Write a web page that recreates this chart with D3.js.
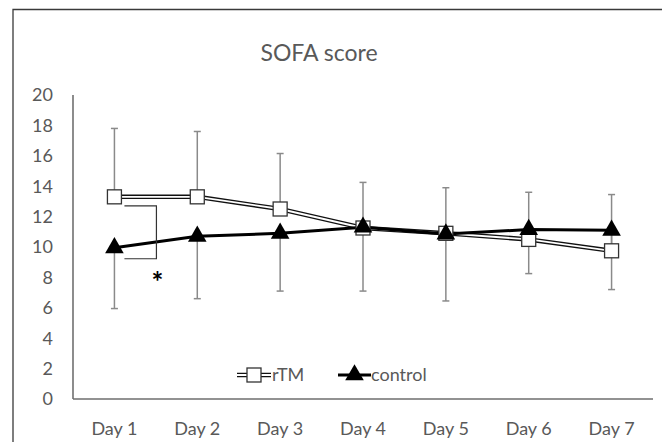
<!DOCTYPE html>
<html>
<head>
<meta charset="utf-8">
<script src="https://cdn.jsdelivr.net/npm/d3@7"></script>
<style>
  body { margin: 0; background: #fff; }
  text { font-family: Lato, "Liberation Sans", sans-serif; }
</style>
</head>
<body>
<div id="vis"></div>
<script>
const FRAME_WIDTH = 662;
const FRAME_HEIGHT = 442;

// data
const days = ["Day 1", "Day 2", "Day 3", "Day 4", "Day 5", "Day 6", "Day 7"];
const rtmValues = [13.3, 13.3, 12.5, 11.25, 10.9, 10.5, 9.75];
const rtmUpper = [17.8, 17.6, 16.15, 14.25, 13.9, 13.6, 13.45];
const controlValues = [9.95, 10.7, 10.9, 11.3, 10.85, 11.15, 11.1];
const controlLower = [5.95, 6.6, 7.1, 7.1, 6.45, 8.25, 7.2];
const yTicks = [0, 2, 4, 6, 8, 10, 12, 14, 16, 18, 20];

const MARGINS = {left: 73, right: 9, top: 95, bottom: 43};

const svg = d3.select("#vis")
  .append("svg")
  .attr("width", FRAME_WIDTH)
  .attr("height", FRAME_HEIGHT);

// outer frame (only top and left edges show)
svg.append("path")
  .attr("d", `M13,${FRAME_HEIGHT} L13,9.5 L${FRAME_WIDTH},9.5`)
  .attr("fill", "none")
  .attr("stroke", "#3a3a3a")
  .attr("stroke-width", 1.3);

const X_SCALE = d3.scaleBand()
  .domain(days)
  .range([MARGINS.left, FRAME_WIDTH - MARGINS.right]);

const Y_SCALE = d3.scaleLinear()
  .domain([0, 20])
  .range([FRAME_HEIGHT - MARGINS.bottom, MARGINS.top]);

const cx = (i) => X_SCALE(days[i]) + X_SCALE.bandwidth() / 2;

// title
svg.append("text")
  .attr("x", 319)
  .attr("y", 61)
  .attr("text-anchor", "middle")
  .attr("fill", "#595959")
  .attr("font-size", 23)
  .text("SOFA score");

// y axis
svg.append("line")
  .attr("x1", MARGINS.left).attr("x2", MARGINS.left)
  .attr("y1", Y_SCALE(20)).attr("y2", Y_SCALE(0))
  .attr("stroke", "#404040")
  .attr("stroke-width", 1.2);

svg.selectAll(".ytick")
  .data(yTicks)
  .enter()
  .append("text")
    .attr("class", "ytick")
    .attr("x", 53)
    .attr("y", (d) => Y_SCALE(d))
    .attr("dy", "0.36em")
    .attr("text-anchor", "end")
    .attr("fill", "#595959")
    .attr("font-size", 18)
    .text((d) => d);

// x axis
svg.append("line")
  .attr("x1", MARGINS.left).attr("x2", FRAME_WIDTH - MARGINS.right)
  .attr("y1", Y_SCALE(0)).attr("y2", Y_SCALE(0))
  .attr("stroke", "#6e6e6e")
  .attr("stroke-width", 1.6);

svg.selectAll(".xtick")
  .data(days)
  .enter()
  .append("text")
    .attr("class", "xtick")
    .attr("x", (d, i) => cx(i))
    .attr("y", Y_SCALE(0) + 36)
    .attr("text-anchor", "middle")
    .attr("fill", "#595959")
    .attr("font-size", 18)
    .text((d) => d);

// error bars: plus for rTM, minus for control
const CAP = 3.5;
const errG = svg.append("g")
  .attr("stroke", "#8a8a8a")
  .attr("stroke-width", 1.5);

days.forEach((d, i) => {
  const x = cx(i);
  errG.append("line")
    .attr("x1", x).attr("x2", x)
    .attr("y1", Y_SCALE(rtmValues[i])).attr("y2", Y_SCALE(rtmUpper[i]));
  errG.append("line")
    .attr("x1", x - CAP).attr("x2", x + CAP)
    .attr("y1", Y_SCALE(rtmUpper[i])).attr("y2", Y_SCALE(rtmUpper[i]));
  errG.append("line")
    .attr("x1", x).attr("x2", x)
    .attr("y1", Y_SCALE(controlValues[i])).attr("y2", Y_SCALE(controlLower[i]));
  errG.append("line")
    .attr("x1", x - CAP).attr("x2", x + CAP)
    .attr("y1", Y_SCALE(controlLower[i])).attr("y2", Y_SCALE(controlLower[i]));
});

const lineGen = d3.line()
  .x((d, i) => cx(i))
  .y((d) => Y_SCALE(d));

// rTM: double line (black outline, white core)
svg.append("path")
  .datum(rtmValues)
  .attr("d", lineGen)
  .attr("fill", "none")
  .attr("stroke", "#111")
  .attr("stroke-width", 4.5);
svg.append("path")
  .datum(rtmValues)
  .attr("d", lineGen)
  .attr("fill", "none")
  .attr("stroke", "#fff")
  .attr("stroke-width", 1.8);

// control line
svg.append("path")
  .datum(controlValues)
  .attr("d", lineGen)
  .attr("fill", "none")
  .attr("stroke", "#000")
  .attr("stroke-width", 3);

const SQ = 14;
svg.selectAll(".sq")
  .data(rtmValues)
  .enter()
  .append("rect")
    .attr("class", "sq")
    .attr("x", (d, i) => cx(i) - SQ / 2)
    .attr("y", (d) => Y_SCALE(d) - SQ / 2)
    .attr("width", SQ)
    .attr("height", SQ)
    .attr("fill", "#fff")
    .attr("stroke", "#333")
    .attr("stroke-width", 1.3);

const tri = d3.symbol().type(d3.symbolTriangle).size(150);
svg.selectAll(".tri")
  .data(controlValues)
  .enter()
  .append("path")
    .attr("class", "tri")
    .attr("d", tri)
    .attr("transform", (d, i) => `translate(${cx(i)},${Y_SCALE(d)})`)
    .attr("fill", "#000");

// significance bracket on Day 1
const bx0 = cx(0) + 10;
const bx1 = cx(0) + 42;
svg.append("path")
  .attr("d", `M${bx0},${Y_SCALE(rtmValues[0]) + 9} H${bx1} V${Y_SCALE(controlValues[0]) + 11} H${bx0}`)
  .attr("fill", "none")
  .attr("stroke", "#333")
  .attr("stroke-width", 1.2);
svg.append("text")
  .attr("x", bx1 + 1)
  .attr("y", Y_SCALE(controlValues[0]) + 44)
  .attr("text-anchor", "middle")
  .attr("fill", "#000")
  .attr("font-family", "DejaVu Sans")
  .attr("font-weight", "bold")
  .attr("font-size", 28)
  .text("*");

// legend
const legY = 375;
const lg = svg.append("g");
lg.append("line")
  .attr("x1", 237).attr("x2", 271).attr("y1", legY).attr("y2", legY)
  .attr("stroke", "#111").attr("stroke-width", 4.5);
lg.append("line")
  .attr("x1", 237).attr("x2", 271).attr("y1", legY).attr("y2", legY)
  .attr("stroke", "#fff").attr("stroke-width", 1.8);
lg.append("rect")
  .attr("x", 254 - SQ / 2).attr("y", legY - SQ / 2)
  .attr("width", SQ).attr("height", SQ)
  .attr("fill", "#fff").attr("stroke", "#333").attr("stroke-width", 1.3);
lg.append("text")
  .attr("x", 272).attr("y", legY).attr("dy", "0.36em")
  .attr("fill", "#595959").attr("font-size", 18)
  .text("rTM");
lg.append("line")
  .attr("x1", 338).attr("x2", 371).attr("y1", legY).attr("y2", legY)
  .attr("stroke", "#000").attr("stroke-width", 3);
lg.append("path")
  .attr("d", tri)
  .attr("transform", `translate(354.5,${legY})`)
  .attr("fill", "#000");
lg.append("text")
  .attr("x", 371).attr("y", legY).attr("dy", "0.36em")
  .attr("fill", "#595959").attr("font-size", 18)
  .text("control");
</script>
</body>
</html>
